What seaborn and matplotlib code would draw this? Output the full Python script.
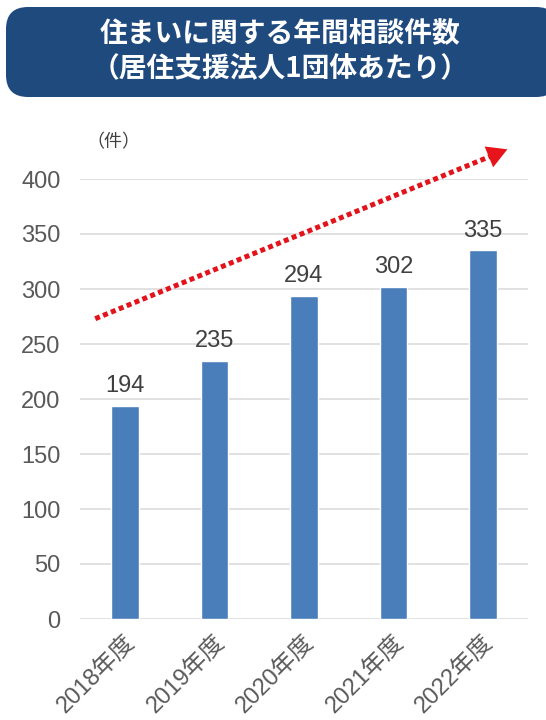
import matplotlib
matplotlib.use("Agg")
import matplotlib.pyplot as plt
import matplotlib.transforms as mtransforms
from matplotlib.patches import FancyBboxPatch
import seaborn as sns
import pandas as pd

# ---- data ----
years = ["2018年度", "2019年度", "2020年度", "2021年度", "2022年度"]
counts = [194, 235, 294, 302, 335]
yticks = [0, 50, 100, 150, 200, 250, 300, 350, 400]
title_lines = ["住まいに関する年間相談件数", "（居住支援法人1団体あたり）"]
unit_label = "（件）"

sns.set_theme(style="white")
plt.rcParams["font.family"] = ["Liberation Sans", "Noto Sans CJK JP", "DejaVu Sans"]

W, H = 546, 720
fig = plt.figure(figsize=(W / 100, H / 100), dpi=100)
fig.patch.set_facecolor("white")

left, right, top, bottom = 80, 528, 179, 619
ax = fig.add_axes([left / W, 1 - bottom / H, (right - left) / W, (bottom - top) / H])

df = pd.DataFrame({"year": years, "count": counts})
sns.barplot(data=df, x="year", y="count", color="#4a7ebb", saturation=1,
            width=0.31, ax=ax, zorder=3)

ax.set_ylim(0, 400)
ax.set_xlim(-0.5, len(years) - 0.5)
ax.set_yticks(yticks)
ax.set_yticklabels([str(v) for v in yticks])
ax.set_xlabel("")
ax.set_ylabel("")
ax.grid(axis="y", color="#d9d9d9", linewidth=1.1, zorder=0)
ax.grid(axis="x", visible=False)
for s in ax.spines.values():
    s.set_visible(False)
ax.tick_params(axis="y", length=0, pad=14, labelsize=17, labelcolor="#595959")
ax.tick_params(axis="x", length=0, pad=14, labelsize=17, labelcolor="#595959")
shift = mtransforms.ScaledTranslation(7 / 100, 0, fig.dpi_scale_trans)
for lab in ax.get_xticklabels():
    lab.set_rotation(45)
    lab.set_ha("right")
    lab.set_va("center")
    lab.set_rotation_mode("anchor")
    lab.set_fontfamily(["Liberation Sans", "Noto Sans CJK JP"])
    lab.set_transform(lab.get_transform() + shift)

for c in ax.containers:
    ax.bar_label(c, labels=[str(v) for v in counts], padding=6,
                 fontsize=17, color="#404040")

# trend arrow (dotted line + solid head)
x0, y0 = -0.33, 273
x1, y1 = 4.27, 427
frac = 0.04
xb = x1 - (x1 - x0) * frac
yb = y1 - (y1 - y0) * frac
ax.plot([x0, xb], [y0, yb], color="#e3131b", lw=3.6,
        linestyle=(0, (1, 0.7)), dash_capstyle="butt", solid_capstyle="butt",
        clip_on=False, zorder=5)
ax.annotate("", xy=(x1, y1), xytext=(xb - (x1 - x0) * 0.005, yb - (y1 - y0) * 0.005),
            arrowprops=dict(arrowstyle="-|>,head_length=0.8,head_width=0.45",
                            color="#e8141c", lw=0, mutation_scale=18,
                            shrinkA=0, shrinkB=0),
            annotation_clip=False, zorder=5)

# unit label
fig.text(113 / W, 1 - 142 / H, unit_label, ha="center", va="center",
         fontsize=13, color="#404040", family=["Noto Sans CJK JP", "DejaVu Sans"])

# title box
tax = fig.add_axes([0, 0, 1, 1], zorder=10)
tax.set_xlim(0, W)
tax.set_ylim(H, 0)
tax.axis("off")
tax.patch.set_alpha(0)
box = FancyBboxPatch((6, 7), 552, 90, boxstyle="round,pad=0,rounding_size=22",
                     facecolor="#1f4a7e", edgecolor="none", clip_on=False)
tax.add_patch(box)
tax.text(280, 34, title_lines[0], ha="center", va="center", color="white",
         fontsize=20, fontweight="bold", family=["Noto Sans CJK JP", "DejaVu Sans"])
tax.text(280, 68, title_lines[1], ha="center", va="center", color="white",
         fontsize=20, fontweight="bold", family=["Noto Sans CJK JP", "DejaVu Sans"])

fig.savefig("out.png", dpi=100, facecolor="white")
